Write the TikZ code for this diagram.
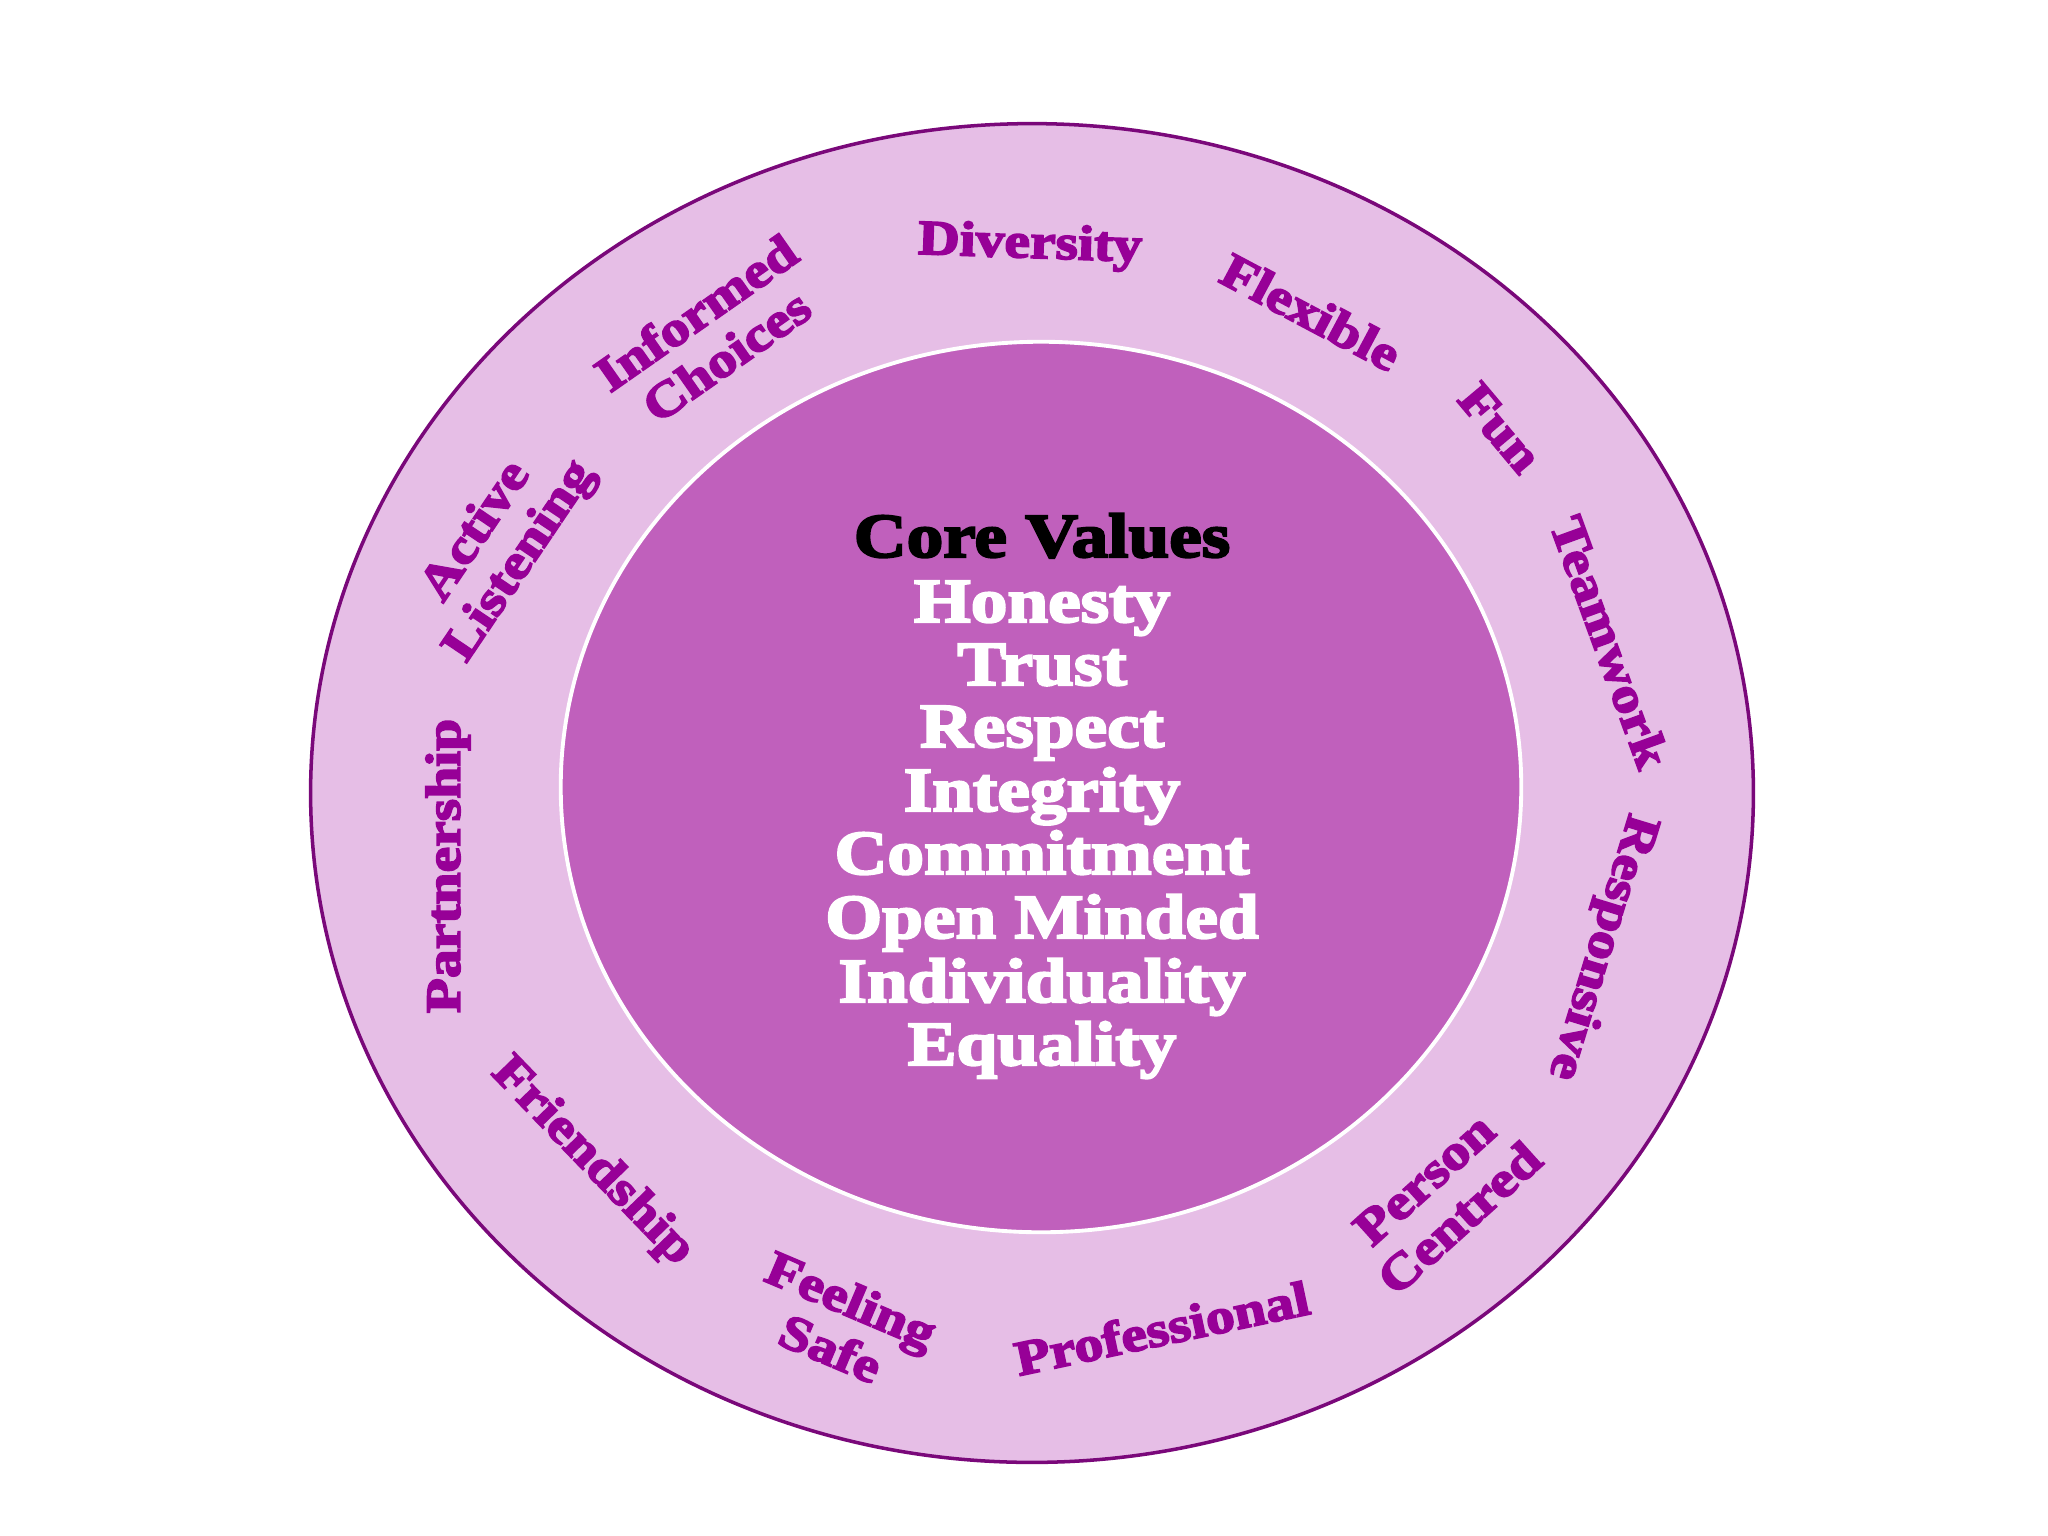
\documentclass[tikz,border=0pt]{standalone}
\usepackage{fontspec}
\setmainfont{Liberation Serif}[FakeStretch=1.17, BoldFeatures={FakeBold=3.5}]
\usetikzlibrary{shapes.geometric}
\definecolor{ringfill}{HTML}{E6BEE6}
\definecolor{ringline}{HTML}{7A087A}
\definecolor{corefill}{HTML}{C060BC}
\definecolor{labelc}{HTML}{970097}
\begin{document}
\begin{tikzpicture}[x=0.01cm,y=-0.01cm,
  ringlabel/.style={font=\fontsize{14}{15}\selectfont\bfseries, text=labelc, align=center, inner sep=0pt},
  coreline/.style={font=\fontsize{17.8}{18}\selectfont\bfseries, text=white, anchor=base, inner sep=0pt}]
\useasboundingbox (0,0) rectangle (2048,1536);
\fill[white] (0,0) rectangle (2048,1536);
% rings
\node[ellipse, draw=ringline, line width=1pt, fill=ringfill, minimum width=14.42cm, minimum height=13.38cm, inner sep=0pt] (outer) at (1032,793) {};
\node[ellipse, draw=white, line width=1.1pt, fill=corefill, minimum width=9.60cm, minimum height=8.90cm, inner sep=0pt] (inner) at (1041,787) {};
% core values
\node[coreline, text=black] (title) at (1042,557) {Core Values};
\node[coreline] (v1) at (1042,622) {Honesty};
\node[coreline] (v2) at (1042,685) {Trust};
\node[coreline] (v3) at (1042,747) {Respect};
\node[coreline] (v4) at (1042,811) {Integrity};
\node[coreline] (v5) at (1042,874) {Commitment};
\node[coreline] (v6) at (1042,938) {Open Minded};
\node[coreline] (v7) at (1042,1002) {Individuality};
\node[coreline] (v8) at (1042,1065) {Equality};
% ring labels
\node[ringlabel, rotate=-2] (diversity) at (1030,246) {Diversity};
\node[ringlabel, rotate=-28] (flexible) at (1311,312) {Flexible};
\node[ringlabel, rotate=-50] (fun) at (1500,428) {Fun};
\node[ringlabel, rotate=-70] (teamwork) at (1610,642) {Teamwork};
\node[ringlabel, rotate=-107] (responsive) at (1601,947) {Responsive};
\node[ringlabel, rotate=42] (person) at (1442,1199) {Person\\Centred};
\node[ringlabel, rotate=12] (professional) at (1162,1328) {Professional};
\node[ringlabel, rotate=-23] (feeling) at (841,1324) {Feeling\\Safe};
\node[ringlabel, rotate=-46] (friendship) at (592,1162) {Friendship};
\node[ringlabel, rotate=90] (partnership) at (448,866) {Partnership};
\node[ringlabel, rotate=56] (active) at (499,547) {Active\\Listening};
\node[ringlabel, rotate=35] (informed) at (711,334) {Informed\\Choices};
\end{tikzpicture}
\end{document}
